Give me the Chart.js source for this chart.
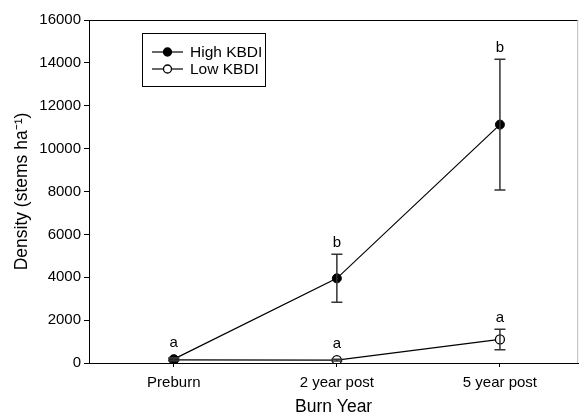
<!DOCTYPE html>
<html>
<head>
<meta charset="utf-8">
<script src="https://cdn.jsdelivr.net/npm/chart.js@4/dist/chart.umd.min.js"></script>
<style>
  html, body { margin: 0; padding: 0; background: #fff; }
  #wrap { width: 584px; height: 416px; }
</style>
</head>
<body>
<div id="wrap"><canvas id="c" width="584" height="416"></canvas></div>
<script>
const categories = ['Preburn', '2 year post', '5 year post'];
const highMean = [180, 3950, 11120];
const highSE = [60, 1120, 3050];
const lowMean = [150, 130, 1100];
const lowSE = [50, 40, 480];
const highLetters = ['a', 'b', 'b'];
const lowLetters = ['', 'a', 'a'];
const yTicks = [0, 2000, 4000, 6000, 8000, 10000, 12000, 14000, 16000];
const seriesNames = ['High KBDI', 'Low KBDI'];

const FONT = "'Liberation Sans', Arial, sans-serif";

function pts(arr) { return arr.map((v, i) => ({ x: i, y: v })); }

const errorBarPlugin = {
  id: 'errorBars',
  afterDatasetsDraw(chart) {
    const ctx = chart.ctx;
    const xs = chart.scales.x, ys = chart.scales.y;
    const sets = [[highMean, highSE], [lowMean, lowSE]];
    ctx.save();
    ctx.strokeStyle = '#333';
    ctx.lineWidth = 1.5;
    sets.forEach(([m, se]) => {
      m.forEach((v, i) => {
        const x = xs.getPixelForValue(i);
        const yt = ys.getPixelForValue(v + se[i]);
        const yb = ys.getPixelForValue(Math.max(0, v - se[i]));
        ctx.beginPath();
        ctx.moveTo(x, yt); ctx.lineTo(x, yb);
        ctx.moveTo(x - 5.5, yt); ctx.lineTo(x + 5.5, yt);
        ctx.moveTo(x - 5.5, yb); ctx.lineTo(x + 5.5, yb);
        ctx.stroke();
      });
    });
    ctx.restore();
  },
  afterDraw(chart) {
    const ctx = chart.ctx;
    const xs = chart.scales.x, ys = chart.scales.y;
    const a = chart.chartArea;
    ctx.save();
    // letters
    ctx.fillStyle = '#000';
    ctx.font = '15px ' + FONT;
    ctx.textAlign = 'center';
    ctx.textBaseline = 'alphabetic';
    const groups = [[highMean, highSE, highLetters], [lowMean, lowSE, lowLetters]];
    groups.forEach(([m, se, L]) => {
      m.forEach((v, i) => {
        if (!L[i]) return;
        const x = xs.getPixelForValue(i);
        const top = Math.min(ys.getPixelForValue(v + se[i]), ys.getPixelForValue(v) - 5);
        ctx.fillText(L[i], x, top - 7);
      });
    });
    // frame
    ctx.lineWidth = 1;
    ctx.strokeStyle = '#000';
    ctx.beginPath();
    ctx.moveTo(a.left + 0.5, a.bottom); ctx.lineTo(a.left + 0.5, a.top + 0.5); ctx.lineTo(a.right, a.top + 0.5);
    ctx.stroke();
    ctx.strokeStyle = '#bbb';
    ctx.beginPath();
    ctx.moveTo(a.right - 0.5, a.top); ctx.lineTo(a.right - 0.5, a.bottom);
    ctx.stroke();
    // legend
    const lx = a.left + 53, ly = a.top + 13, lw = 123, lh = 53;
    ctx.strokeStyle = '#000';
    ctx.lineWidth = 1;
    ctx.strokeRect(lx + 0.5, ly + 0.5, lw, lh);
    const rows = [{ y: ly + 19, fill: '#000' }, { y: ly + 36, fill: '#fff' }];
    ctx.font = '15.5px ' + FONT;
    ctx.textAlign = 'left';
    ctx.textBaseline = 'middle';
    rows.forEach((r, k) => {
      ctx.strokeStyle = '#000';
      ctx.lineWidth = 1.2;
      ctx.beginPath();
      ctx.moveTo(lx + 10, r.y); ctx.lineTo(lx + 41, r.y);
      ctx.stroke();
      ctx.beginPath();
      ctx.arc(lx + 25.5, r.y, 4, 0, Math.PI * 2);
      ctx.fillStyle = r.fill;
      ctx.fill();
      ctx.lineWidth = 1.3;
      ctx.stroke();
      ctx.fillStyle = '#000';
      ctx.fillText(seriesNames[k], lx + 48, r.y + 1);
    });
    ctx.restore();
  }
};

new Chart(document.getElementById('c'), {
  type: 'line',
  data: {
    datasets: [
      {
        label: seriesNames[0],
        data: pts(highMean),
        borderColor: '#000',
        borderWidth: 1.2,
        pointRadius: 4.5,
        pointBackgroundColor: '#000',
        pointBorderColor: '#000',
        pointBorderWidth: 1,
        tension: 0
      },
      {
        label: seriesNames[1],
        data: pts(lowMean),
        borderColor: '#000',
        borderWidth: 1.2,
        pointRadius: 4.5,
        pointBackgroundColor: '#fff',
        pointBorderColor: '#000',
        pointBorderWidth: 1.3,
        tension: 0
      }
    ]
  },
  options: {
    responsive: false,
    animation: false,
    devicePixelRatio: 1,
    layout: { padding: { top: 20, right: 1, left: 0, bottom: 0 } },
    plugins: { legend: { display: false }, tooltip: { enabled: false } },
    scales: {
      x: {
        type: 'linear',
        min: -0.52,
        max: 2.48,
        afterBuildTicks(scale) { scale.ticks = [0, 1, 2].map(v => ({ value: v })); },
        afterFit(scale) { scale.height = 53; },
        ticks: {
          color: '#000',
          font: { family: FONT, size: 15 },
          padding: 7,
          maxRotation: 0,
          autoSkip: false,
          callback: (v) => categories[v] || ''
        },
        grid: { display: true, drawOnChartArea: false, tickLength: 4, color: '#000' },
        border: { display: true, color: '#000', width: 1 },
        title: {
          display: true,
          text: 'Burn Year',
          color: '#000',
          font: { family: FONT, size: 17.5, lineHeight: 1.0 },
          padding: { top: 0, bottom: 0 }
        }
      },
      y: {
        type: 'linear',
        min: 0,
        max: 16000,
        afterBuildTicks(scale) { scale.ticks = yTicks.map(v => ({ value: v })); },
        afterFit(scale) { scale.width = 89; },
        ticks: {
          color: '#000',
          font: { family: FONT, size: 15 },
          padding: 3,
          callback: (v) => String(v)
        },
        grid: { display: true, drawOnChartArea: false, tickLength: 5, color: '#000' },
        border: { display: true, color: '#000', width: 1 },
        title: {
          display: true,
          text: 'Density (stems ha\u207B\u00B9)',
          color: '#000',
          font: { family: FONT, size: 17.5, lineHeight: 1.2 },
          padding: { top: 11.5, bottom: 0 }
        }
      }
    }
  },
  plugins: [errorBarPlugin]
});
</script>
</body>
</html>
